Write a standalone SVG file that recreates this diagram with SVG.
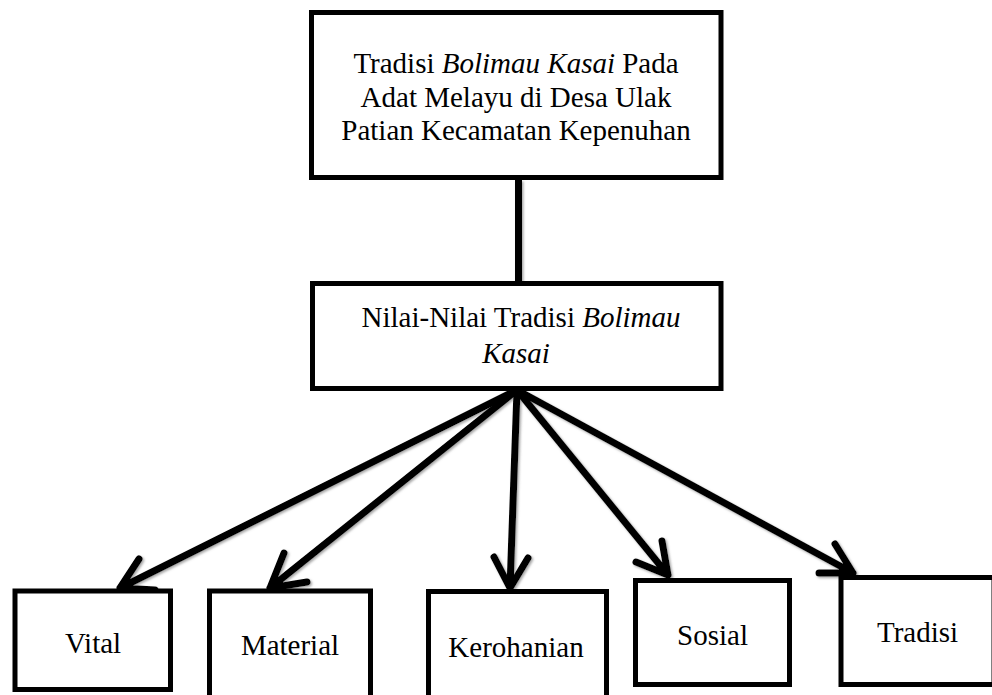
<svg xmlns="http://www.w3.org/2000/svg" width="992" height="695" viewBox="0 0 992 695">
  <defs>
    <filter id="sh" x="-10%" y="-10%" width="120%" height="120%">
      <feDropShadow dx="1.5" dy="1.5" stdDeviation="0.8" flood-color="#808080" flood-opacity="0.7"/>
    </filter>
  </defs>
  <style>
    .box { fill: #ffffff; stroke: #000000; stroke-width: 5; }
    .lbl { font-family: 'Liberation Serif', serif; font-size: 29px; fill: #000000; text-anchor: middle; }
    .it { font-style: italic; }
    .conn { fill: none; stroke: #000000; stroke-width: 7; stroke-linecap: round; stroke-linejoin: round; }
  </style>
  <rect width="992" height="695" fill="#ffffff"/>

  <g id="connectors" filter="url(#sh)">
    <line class="conn" x1="518.5" y1="180" x2="518.5" y2="283" style="stroke-linecap:butt"/>
    <path class="conn" d="M517,390 L120,588 M155,590 L120,588 L139,559"/>
    <path class="conn" d="M517,390 L270,588 M307,582 L270,588 L284,553"/>
    <path class="conn" d="M517,390 L510,588 M528,558 L510,588 L494,557"/>
    <path class="conn" d="M517,390 L668,575 M662,541 L668,575 L636,562"/>
    <path class="conn" d="M517,390 L853,573 M835,544 L853,573 L819,573"/>
  </g>

  <g id="node-top">
    <rect class="box" x="311.5" y="12.5" width="409.5" height="165"/>
    <text class="lbl" font-family="Liberation Serif, serif" x="516" y="73">Tradisi <tspan class="it">Bolimau Kasai</tspan> Pada</text>
    <text class="lbl" font-family="Liberation Serif, serif" x="516" y="106.5">Adat Melayu di Desa Ulak</text>
    <text class="lbl" font-family="Liberation Serif, serif" x="516" y="140">Patian Kecamatan Kepenuhan</text>
  </g>

  <g id="node-nilai">
    <rect class="box" x="312.5" y="283.5" width="408.5" height="105"/>
    <text class="lbl" x="521" y="327">Nilai-Nilai Tradisi <tspan class="it">Bolimau</tspan></text>
    <text class="lbl it" x="516" y="362.5">Kasai</text>
  </g>

  <g id="node-vital">
    <rect class="box" x="15" y="591" width="155.5" height="98.5"/>
    <text class="lbl" x="93" y="653">Vital</text>
  </g>

  <g id="node-material">
    <rect class="box" x="209.5" y="591" width="161" height="110"/>
    <text class="lbl" x="290" y="655">Material</text>
  </g>

  <g id="node-kerohanian">
    <rect class="box" x="428.5" y="591.5" width="178" height="110"/>
    <text class="lbl" x="516" y="657">Kerohanian</text>
  </g>

  <g id="node-sosial">
    <rect class="box" x="635.5" y="580.5" width="154" height="104"/>
    <text class="lbl" x="712.5" y="645">Sosial</text>
  </g>

  <g id="node-tradisi">
    <rect class="box" x="841" y="577.5" width="153" height="107"/>
    <text class="lbl" x="917.5" y="642">Tradisi</text>
  </g>
</svg>
